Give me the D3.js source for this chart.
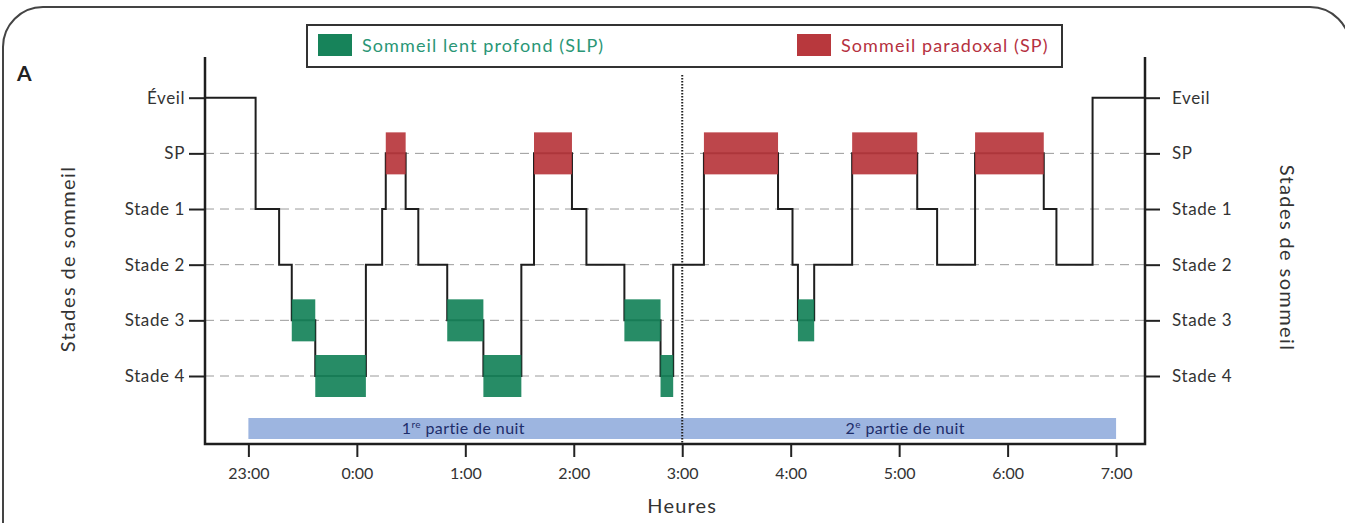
<!DOCTYPE html>
<html>
<head>
<meta charset="utf-8">
<script src="https://cdn.jsdelivr.net/npm/d3@7"></script>
<style>
  body { margin: 0; background: #fff; }
  text { font-family: Lato, "Open Sans", sans-serif; }
</style>
</head>
<body>
<svg id="drawing_region"></svg>
<script>
// stages from top (awake) to bottom (deepest)
const stages = ["Éveil", "SP", "Stade 1", "Stade 2", "Stade 3", "Stade 4"];
const stagesRight = ["Eveil", "SP", "Stade 1", "Stade 2", "Stade 3", "Stade 4"];

// hypnogram: start of each step (minutes after 23:00) and its stage
const stepStart = [-24, 4, 17, 24, 37, 65, 74, 76, 87, 94, 110, 130, 151, 158, 179, 187,
                   208, 228, 235, 252, 293, 301, 304, 313, 334, 370, 381, 402, 440, 447, 467];
const stepStage = ["Éveil", "Stade 1", "Stade 2", "Stade 3", "Stade 4", "Stade 2", "Stade 1", "SP",
                   "Stade 1", "Stade 2", "Stade 3", "Stade 4", "Stade 2", "SP", "Stade 1", "Stade 2",
                   "Stade 3", "Stade 4", "Stade 2", "SP", "Stade 1", "Stade 2", "Stade 3", "Stade 2",
                   "SP", "Stade 1", "Stade 2", "SP", "Stade 1", "Stade 2", "Éveil"];
const nightEnd = 496;

const hourTicks = [0, 60, 120, 180, 240, 300, 360, 420, 480];
const hourLabels = ["23:00", "0:00", "1:00", "2:00", "3:00", "4:00", "5:00", "6:00", "7:00"];

const partStart = [0, 240];
const partEnd = [240, 480];
const partNum = ["1", "2"];
const partSup = ["re", "e"];

const slpStages = ["Stade 3", "Stade 4"];
const spStages = ["SP"];

const config = {
    parent: '#drawing_region',
    width: 1345,
    height: 523,
    left: 205, right: 1145,
    top: 57, bottom: 444
};

const green = '#17835a', red = '#b8383d';

const svg = d3.select(config.parent)
    .attr('width', config.width)
    .attr('height', config.height);

// panel frame
svg.append('rect')
    .attr('x', 3).attr('y', 7)
    .attr('width', 1347).attr('height', 600)
    .attr('rx', 40).attr('ry', 40)
    .attr('fill', 'none')
    .attr('stroke', '#444')
    .attr('stroke-width', 2);

svg.append('text')
    .attr('x', 17).attr('y', 81)
    .attr('font-size', 21).attr('font-weight', 'bold')
    .attr('fill', '#222')
    .text('A');

const xscale = d3.scaleLinear()
    .domain([stepStart[0], nightEnd])
    .range([config.left, config.right]);

const yscale = d3.scalePoint()
    .domain(stages)
    .range([97.7, 376]);

const band = 21;

const segs = stepStart.map((s, i) => ({
    start: s,
    end: i < stepStart.length - 1 ? stepStart[i + 1] : nightEnd,
    stage: stepStage[i]
}));

// grid
svg.append('g').selectAll('line')
    .data(stages.slice(1))
    .join('line')
    .attr('x1', config.left).attr('x2', config.right)
    .attr('y1', d => yscale(d)).attr('y2', d => yscale(d))
    .attr('stroke', '#9a9a9a')
    .attr('stroke-width', 1)
    .attr('stroke-dasharray', '9,6');

// hypnogram line
const pts = segs.map(d => [d.start, d.stage]).concat([[nightEnd, stepStage[stepStage.length - 1]]]);
const line = d3.line()
    .x(d => xscale(d[0]))
    .y(d => yscale(d[1]))
    .curve(d3.curveStepAfter);

svg.append('path')
    .attr('d', line(pts))
    .attr('fill', 'none')
    .attr('stroke', '#1e1e1e')
    .attr('stroke-width', 2);

// stage blocks, drawn over the line
svg.append('g').selectAll('rect')
    .data(segs.filter(d => slpStages.includes(d.stage) || spStages.includes(d.stage)))
    .join('rect')
    .attr('x', d => xscale(d.start))
    .attr('width', d => xscale(d.end) - xscale(d.start))
    .attr('y', d => yscale(d.stage) - band)
    .attr('height', band * 2)
    .attr('fill', d => spStages.includes(d.stage) ? red : green)
    .attr('fill-opacity', 0.93);

// night halves
svg.append('g').selectAll('rect')
    .data(partStart)
    .join('rect')
    .attr('x', (d, i) => xscale(d))
    .attr('width', (d, i) => xscale(partEnd[i]) - xscale(d))
    .attr('y', 418).attr('height', 21)
    .attr('fill', '#9db5e0');

const partText = svg.append('g').selectAll('text')
    .data(partStart)
    .join('text')
    .attr('x', (d, i) => (xscale(d) + xscale(partEnd[i])) / 2 + (i == 0 ? -2 : 6))
    .attr('y', 434)
    .attr('text-anchor', 'middle')
    .attr('font-size', 16)
    .attr('letter-spacing', 0.4)
    .attr('fill', '#1d2d6a');
partText.append('tspan').text((d, i) => partNum[i]);
partText.append('tspan').attr('font-size', 10).attr('dy', -6).text((d, i) => partSup[i]);
partText.append('tspan').attr('dy', 6).text(' partie de nuit');

// 3:00 divider
svg.append('line')
    .attr('x1', xscale(240)).attr('x2', xscale(240))
    .attr('y1', 75).attr('y2', config.bottom)
    .attr('stroke', '#222')
    .attr('stroke-width', 2)
    .attr('stroke-dasharray', '1.5,1.5');

// axes
const xaxis = d3.axisBottom(xscale)
    .tickValues(hourTicks)
    .tickFormat((d, i) => hourLabels[i])
    .tickSize(13)
    .tickPadding(11);

const xg = svg.append('g')
    .attr('transform', `translate(0, ${config.bottom})`)
    .call(xaxis);
xg.select('.domain').remove();

const yleft = d3.axisLeft(yscale).tickSize(16).tickPadding(4);
const yl = svg.append('g')
    .attr('transform', `translate(${config.left}, 0)`)
    .call(yleft);
yl.select('.domain').remove();

const yright = d3.axisRight(yscale).tickSize(15).tickPadding(12)
    .tickFormat((d, i) => stagesRight[i]);
const yr = svg.append('g')
    .attr('transform', `translate(${config.right}, 0)`)
    .call(yright);
yr.select('.domain').remove();

svg.selectAll('.tick line').attr('stroke', '#222').attr('stroke-width', 2);
svg.selectAll('.tick text')
    .attr('font-family', 'Lato, sans-serif')
    .attr('fill', '#333');
xg.selectAll('.tick text').attr('font-size', 16);
yl.selectAll('.tick text').attr('font-size', 17).attr('letter-spacing', 0.6);
yr.selectAll('.tick text').attr('font-size', 17).attr('letter-spacing', 0.6);

// axis frame (left, bottom, right)
svg.append('path')
    .attr('d', `M${config.left},${config.top}V${config.bottom}H${config.right}V${config.top}`)
    .attr('fill', 'none')
    .attr('stroke', '#1e1e1e')
    .attr('stroke-width', 2.5);

// axis titles
svg.append('text')
    .attr('transform', 'translate(75, 259) rotate(-90)')
    .attr('text-anchor', 'middle')
    .attr('font-size', 20).attr('letter-spacing', 1.4).attr('fill', '#333')
    .text('Stades de sommeil');

svg.append('text')
    .attr('transform', 'translate(1280, 258) rotate(90)')
    .attr('text-anchor', 'middle')
    .attr('font-size', 20).attr('letter-spacing', 1.4).attr('fill', '#333')
    .text('Stades de sommeil');

svg.append('text')
    .attr('x', xscale(240)).attr('y', 513)
    .attr('text-anchor', 'middle')
    .attr('font-size', 20).attr('letter-spacing', 1.2).attr('fill', '#333')
    .text('Heures');

// legend
const legend = svg.append('g');
legend.append('rect')
    .attr('x', 307).attr('y', 25)
    .attr('width', 755).attr('height', 42)
    .attr('fill', '#fff')
    .attr('stroke', '#333')
    .attr('stroke-width', 2);

const legendItems = [
    { x: 318, fill: green, text: 'Sommeil lent profond (SLP)', color: '#2a9676' },
    { x: 797, fill: red, text: 'Sommeil paradoxal (SP)', color: '#b5313f' }
];
legend.selectAll('rect.sw')
    .data(legendItems)
    .join('rect')
    .attr('class', 'sw')
    .attr('x', d => d.x).attr('y', 34)
    .attr('width', 34).attr('height', 22)
    .attr('fill', d => d.fill);
legend.selectAll('text')
    .data(legendItems)
    .join('text')
    .attr('x', d => d.x + 44).attr('y', 52)
    .attr('font-size', 18)
    .attr('letter-spacing', 1.1)
    .attr('fill', d => d.color)
    .text(d => d.text);
</script>
</body>
</html>
